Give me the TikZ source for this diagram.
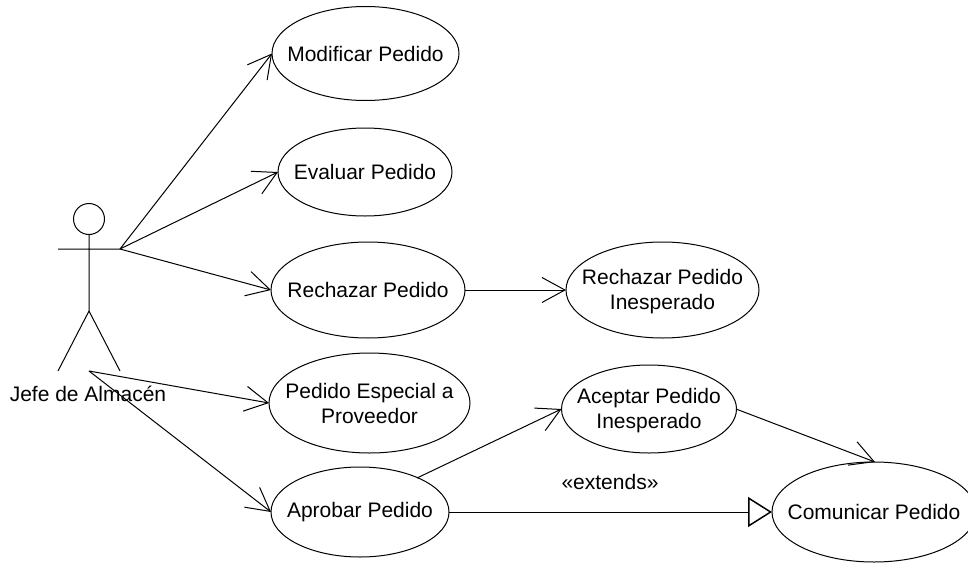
\documentclass[tikz,border=0pt]{standalone}
\usepackage{fontspec}
\setmainfont{Liberation Sans}
\usetikzlibrary{shapes.geometric,arrows.meta}
\tikzset{
  usecase/.style={draw,ellipse,inner sep=0pt,outer sep=0pt,line width=1pt},
  uclabel/.style={label={[align=center,inner sep=0pt,font=\fontsize{21}{25}\selectfont]center:#1}},
  uclabellow/.style={label={[align=center,inner sep=0pt,yshift=-2pt,font=\fontsize{21}{25}\selectfont]center:#1}},
  assoc/.style={line width=1pt,-{Straight Barb[length=23pt,width=25pt,line width=1pt]}},
  ln/.style={line width=1pt}
}
\begin{document}
\begin{tikzpicture}[x=1pt,y=-1pt]
\useasboundingbox (0,0) rectangle (968,562);
\node[usecase,minimum width=187pt,minimum height=94pt,uclabel={Modificar Pedido}] (mod) at (365.5,53.5) {};
\node[usecase,minimum width=174pt,minimum height=88pt,uclabel={Evaluar Pedido}] (eva) at (365,172) {};
\node[usecase,minimum width=194pt,minimum height=96pt,uclabel={Rechazar Pedido}] (rec) at (368,290) {};
\node[usecase,minimum width=193pt,minimum height=96pt,uclabellow={Rechazar Pedido\\Inesperado}] (ine) at (662.5,290) {};
\node[usecase,minimum width=201pt,minimum height=100pt,uclabel={Pedido Especial a\\Proveedor}] (esp) at (369.5,403) {};
\node[usecase,minimum width=178pt,minimum height=90pt,uclabel={Aprobar Pedido}] (apr) at (360,512) {};
\node[usecase,minimum width=175pt,minimum height=88pt,uclabellow={Aceptar Pedido\\Inesperado}] (ace) at (649,409) {};
\node[usecase,minimum width=204pt,minimum height=100pt,uclabel={Comunicar Pedido}] (com) at (874,512) {};
\coordinate (head) at (89,219);
\coordinate (hl) at (58,249);
\coordinate (hr) at (120,249);
\coordinate (neck) at (89,234);
\coordinate (hip) at (89,311);
\coordinate (fl) at (58,371);
\coordinate (fr) at (120,371);
\coordinate (foot) at (89,371);
\draw[ln] (head) circle (15.5);
\draw[ln] (neck) -- (hip) -- (fl) (hip) -- (fr) (hl) -- (hr);
\node[font=\fontsize{21}{25}\selectfont,inner sep=0pt] (act) at (88,394) {Jefe de Almacén};
\draw[assoc] (hr) -- (mod.west);
\draw[assoc] (hr) -- (eva.west);
\draw[assoc] (hr) -- (rec.west);
\draw[assoc] (foot) -- (esp.west);
\draw[assoc] (foot) -- (apr.west);
\draw[assoc] (rec.east) -- (ine.west);
\coordinate (s1) at (417,478);
\draw[assoc] (s1) -- (ace.west);
\coordinate (s2) at (736,409);
\coordinate (t2) at (875,462);
\draw[assoc] (s2) -- (t2);
\draw[line width=1pt,-{Triangle[open,length=24pt,width=30pt,line width=1.5pt]}] (apr.east) -- (com.west);
\node[font=\fontsize{21}{25}\selectfont,inner sep=0pt] (ext) at (610,482) {«extends»};
\end{tikzpicture}
\end{document}
